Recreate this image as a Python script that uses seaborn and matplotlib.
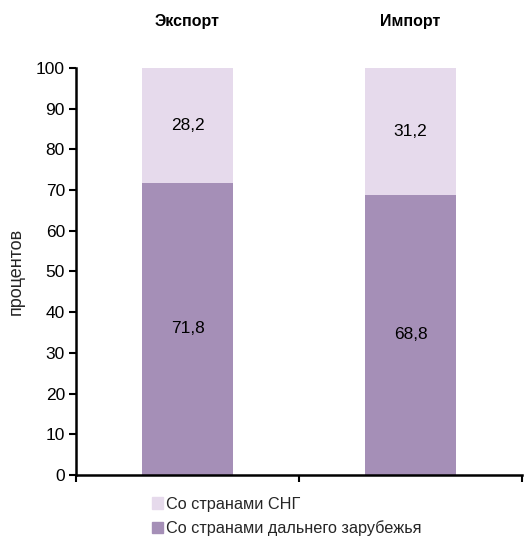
import matplotlib
matplotlib.use("Agg")
import matplotlib.pyplot as plt
import matplotlib.patches as mpatches
from matplotlib.transforms import blended_transform_factory
import seaborn as sns
import pandas as pd

categories = ["Экспорт", "Импорт"]
far_abroad = [71.8, 68.8]
cis = [28.2, 31.2]
series_names = ["Со странами СНГ", "Со странами дальнего зарубежья"]
light_color = "#E6DAEC"
dark_color = "#A58FB7"

sns.set_theme(style="white")
plt.rcParams["font.family"] = ["Liberation Sans", "DejaVu Sans"]

df = pd.DataFrame({"cat": categories, "far": far_abroad, "cis": cis})
df["total"] = df["far"] + df["cis"]

fig = plt.figure(figsize=(5.28, 5.38), dpi=100)
ax = fig.add_axes([0.144, 0.117, 0.845, 0.757])

sns.barplot(data=df, x="cat", y="total", color=light_color, width=0.41,
            saturation=1, linewidth=0, ax=ax)
sns.barplot(data=df, x="cat", y="far", color=dark_color, width=0.41,
            saturation=1, linewidth=0, ax=ax)

fmt = lambda v: f"{v:.1f}".replace(".", ",")
for i, row in df.iterrows():
    ax.text(i, row["far"] / 2, fmt(row["far"]), ha="center", va="center",
            fontsize=12.5, color="black")
    ax.text(i, row["far"] + row["cis"] / 2, fmt(row["cis"]), ha="center",
            va="center", fontsize=12.5, color="black")

trans = blended_transform_factory(ax.transData, ax.transAxes)
for i, c in enumerate(categories):
    ax.text(i, 1.113, c, transform=trans, ha="center", va="center",
            fontsize=11.5, fontweight="bold", color="black")

ax.set_ylim(0, 100)
ax.set_xlim(-0.5, 1.5)
ax.set_yticks(range(0, 101, 10))
ax.set_xticks([-0.5, 0.5, 1.5])
ax.set_xticklabels([])
ax.set_xlabel("")
ax.set_ylabel("процентов", fontsize=13, labelpad=8)
ax.tick_params(axis="y", direction="out", length=5, width=1.5, labelsize=12.5,
               left=True, color="black", labelcolor="black", pad=3)
ax.tick_params(axis="x", direction="out", length=5, width=1.5, bottom=True,
               color="black")
for s in ["top", "right"]:
    ax.spines[s].set_visible(False)
for s in ["left", "bottom"]:
    ax.spines[s].set_color("black")
    ax.spines[s].set_linewidth(1.8)

handles = [mpatches.Patch(color=light_color, label=series_names[0]),
           mpatches.Patch(color=dark_color, label=series_names[1])]
fig.legend(handles=handles, loc="upper left", bbox_to_anchor=(0.272, 0.092),
           frameon=False, fontsize=11.7, handlelength=0.7, handleheight=0.7,
           handletextpad=0.2, labelspacing=0.55, borderpad=0)

fig.savefig("out.png", dpi=100)
